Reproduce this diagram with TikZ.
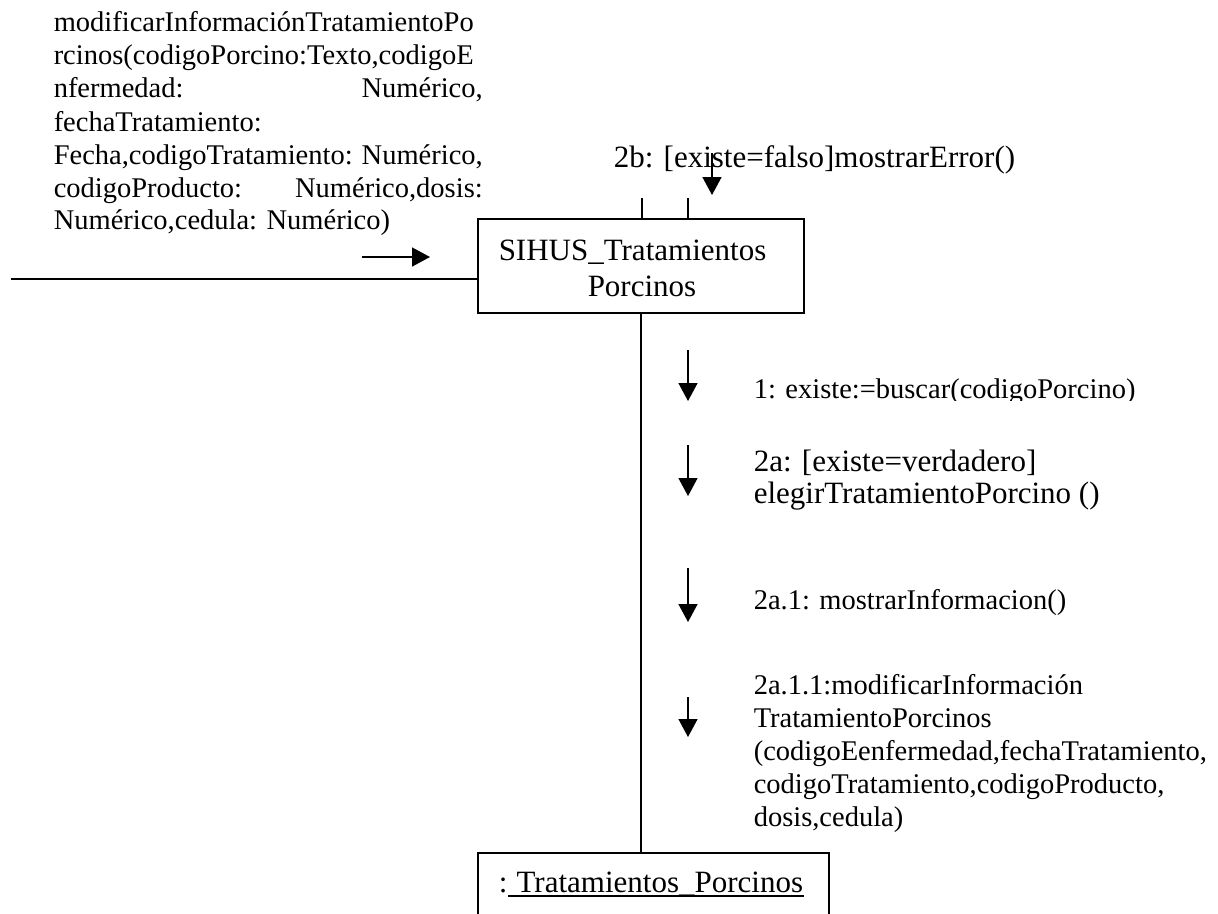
\documentclass[tikz,border=0pt]{standalone}
\usepackage{fontspec}
\setmainfont{Liberation Serif}
\usetikzlibrary{arrows.meta}
\begin{document}
\begin{tikzpicture}[x=1pt,y=-1pt,
  line width=1.5pt,
  msg/.style={-{Triangle[length=18pt,width=19pt]}},
  txtA/.style={font=\fontsize{28.5}{33}\selectfont, inner sep=0pt, anchor=base west},
  txtB/.style={font=\fontsize{31}{36}\selectfont, inner sep=0pt, anchor=base west},
  obj/.style={draw, inner sep=0pt, line width=1.5pt}]
\useasboundingbox (0,0) rectangle (1218,913);

% signature text
\node[txtA] (sig1) at (53,31) {modificarInformaciónTratamientoPo};
\node[txtA] (sig2) at (53,64) {rcinos(codigoPorcino:Texto,codigoE};
\node[txtA] (sig3) at (53,97) {\makebox[429pt][s]{nfermedad: Numérico,}};
\node[txtA] (sig4) at (53,131) {fechaTratamiento:};
\node[txtA] (sig5) at (53,164) {\makebox[429pt][s]{Fecha,codigoTratamiento: Numérico,}};
\node[txtA] (sig6) at (53,197) {\makebox[429pt][s]{codigoProducto: Numérico,dosis:}};
\node[txtA] (sig7) at (53,229) {Numérico,cedula: Numérico)};

% objects
\node[obj, minimum width=326pt, minimum height=94pt] (sihus) at (641,266) {};
\node[txtB] (sihus1) at (498,260) {SIHUS\_Tratamientos};
\node[txtB] (sihus2) at (587,296) {Porcinos};

\node[obj, minimum width=351pt, minimum height=90pt, anchor=north west] (tp) at (477,852) {};
\node[txtB] (tpc) at (498,892) {:};
\node[txtB, anchor=base west] (tpn) at (tpc.base east) {\ Tratamientos\_Porcinos};
\draw[line width=1.2pt] ([yshift=-4pt]tpn.base west) -- ([yshift=-4pt]tpn.base east);

% links
\coordinate (actor) at (11,279);
\draw (actor) -- (actor -| sihus.west);
\draw (sihus.south) -- (sihus.south |- tp.north);
\coordinate (st1) at (642,198);
\coordinate (st2) at (688,198);
\draw (st1) -- (st1 |- sihus.north);
\draw (st2) -- (st2 |- sihus.north);

% incoming message
\coordinate (m0s) at (362,257);
\coordinate (m0e) at (430,257);
\draw[msg] (m0s) -- (m0e);

% 2b
\node[txtB] (l2b) at (613,167) {2b: [existe=falso]mostrarError()};
\coordinate (m2bs) at (712,153);
\coordinate (m2be) at (712,195);
\draw[msg] (m2bs) -- (m2be);

% message arrows along the link
\coordinate (m1s) at (688,350);
\coordinate (m1e) at (688,401);
\draw[msg] (m1s) -- (m1e);
\coordinate (m2s) at (688,445);
\coordinate (m2e) at (688,496);
\draw[msg] (m2s) -- (m2e);
\coordinate (m3s) at (688,568);
\coordinate (m3e) at (688,622);
\draw[msg] (m3s) -- (m3e);
\coordinate (m4s) at (688,697);
\coordinate (m4e) at (688,737);
\draw[msg] (m4s) -- (m4e);

% labels
\begin{scope}
\clip (740,340) rectangle (1218,400);
\node[txtA] (l1) at (753,398) {1: existe:=buscar(codigoPorcino)};
\end{scope}
\node[txtB] (l2a) at (753,471) {2a: [existe=verdadero]};
\node[txtB] (l2b2) at (753,503) {elegirTratamientoPorcino ()};
\node[txtA] (l3) at (753,609) {2a.1: mostrarInformacion()};
\node[txtA] (l4a) at (753,694) {2a.1.1:modificarInformación};
\node[txtA] (l4b) at (753,727) {TratamientoPorcinos};
\node[txtA] (l4c) at (753,760) {(codigoEenfermedad,fechaTratamiento,};
\node[txtA] (l4d) at (753,793) {codigoTratamiento,codigoProducto,};
\node[txtA] (l4e) at (753,826) {dosis,cedula)};
\end{tikzpicture}
\end{document}
